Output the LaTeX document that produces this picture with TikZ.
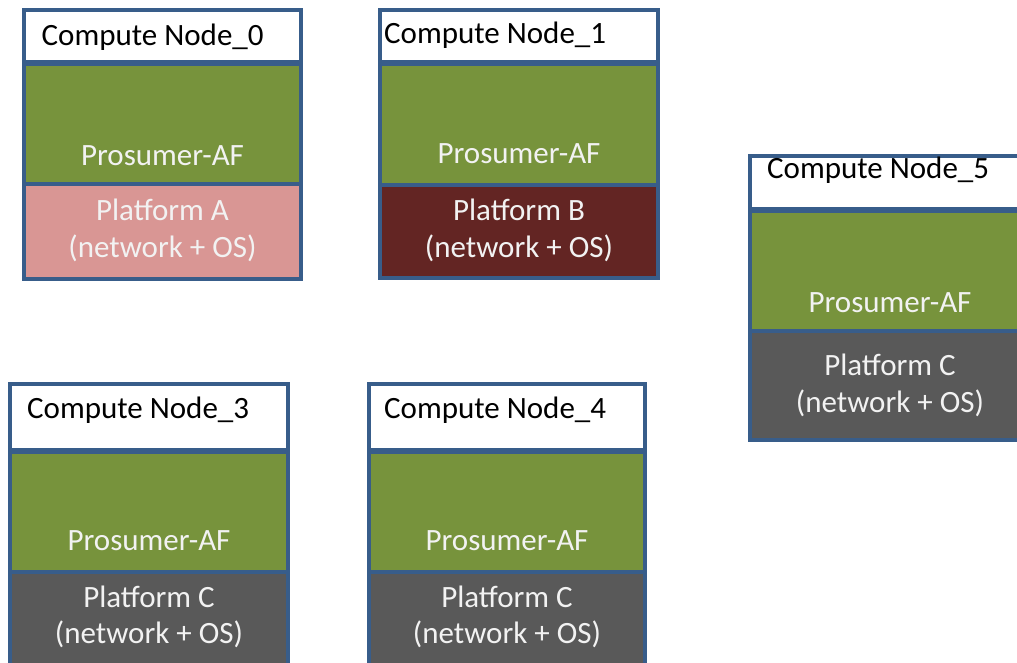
\documentclass[tikz,border=0pt]{standalone}
\usepackage{fontspec}
\setmainfont{Carlito}
\definecolor{frameblue}{HTML}{385D8A}
\definecolor{afgreen}{HTML}{77933C}
\definecolor{platA}{HTML}{D99694}
\definecolor{platB}{HTML}{632523}
\definecolor{platC}{HTML}{595959}
\definecolor{lighttext}{HTML}{F2F2F2}

\tikzset{
  section/.style={draw=frameblue, line width=4.5pt, inner sep=0pt, outer sep=0pt, anchor=north west},
  titletext/.style={anchor=base west, inner sep=0pt, text=black, font=\fontsize{31}{37}\selectfont},
  bodytext/.style={anchor=base, inner sep=0pt, text=lighttext, font=\fontsize{31}{37}\selectfont},
}

% one section of a compute node: name, fill, left, top, right, bottom
\newcommand{\cnsection}[6]{%
  \node[section, fill=#2, minimum width={#5-#3}, minimum height={#6-#4}] (#1) at ({#3},{#4}) {};}

% a compute node stack: name, left, right, top, separator 1, separator 2, bottom, platform fill
\newcommand{\computestack}[8]{%
  \cnsection{#1t}{white}{#2}{#4}{#3}{#5-1}
  \cnsection{#1a}{afgreen}{#2}{#5+1}{#3}{#6-1}
  \cnsection{#1p}{#8}{#2}{#6+1}{#3}{#7}}

\begin{document}
\begin{tikzpicture}[x=1pt, y=-1pt]
  \useasboundingbox (0,0) rectangle (1017,662);
  \clip (0,0) rectangle (1017,662);

  % Compute Node_0
  \computestack{n0}{24}{301}{10}{63}{183}{277}{platA}
  \node[titletext] (n0title) at (41.5,45) {Compute Node\_0};
  \node[bodytext] (n0af) at (162.5,165) {Prosumer-AF};
  \node[bodytext] (n0pl) at (162.5,220) {Platform A};
  \node[bodytext] (n0os) at (162.5,257) {(network + OS)};

  % Compute Node_1
  \computestack{n1}{380}{658}{10}{63}{184}{276}{platB}
  \node[titletext] (n1title) at (384,43) {Compute Node\_1};
  \node[bodytext] (n1af) at (519,163) {Prosumer-AF};
  \node[bodytext] (n1pl) at (519,220) {Platform B};
  \node[bodytext] (n1os) at (519,257) {(network + OS)};

  % Compute Node_5
  \computestack{n5}{750}{1029}{156}{210}{330}{438}{platC}
  \node[titletext] (n5title) at (767,178) {Compute Node\_5};
  \node[bodytext] (n5af) at (890,312) {Prosumer-AF};
  \node[bodytext] (n5pl) at (890,375) {Platform C};
  \node[bodytext] (n5os) at (890,412) {(network + OS)};

  % Compute Node_3
  \computestack{n3}{10}{288}{384}{451}{571}{670}{platC}
  \node[titletext] (n3title) at (27,418) {Compute Node\_3};
  \node[bodytext] (n3af) at (149,550) {Prosumer-AF};
  \node[bodytext] (n3pl) at (149,607) {Platform C};
  \node[bodytext] (n3os) at (149,643) {(network + OS)};

  % Compute Node_4
  \computestack{n4}{369}{645}{384}{451}{571}{670}{platC}
  \node[titletext] (n4title) at (384,418) {Compute Node\_4};
  \node[bodytext] (n4af) at (507,550) {Prosumer-AF};
  \node[bodytext] (n4pl) at (507,607) {Platform C};
  \node[bodytext] (n4os) at (507,643) {(network + OS)};
\end{tikzpicture}
\end{document}
